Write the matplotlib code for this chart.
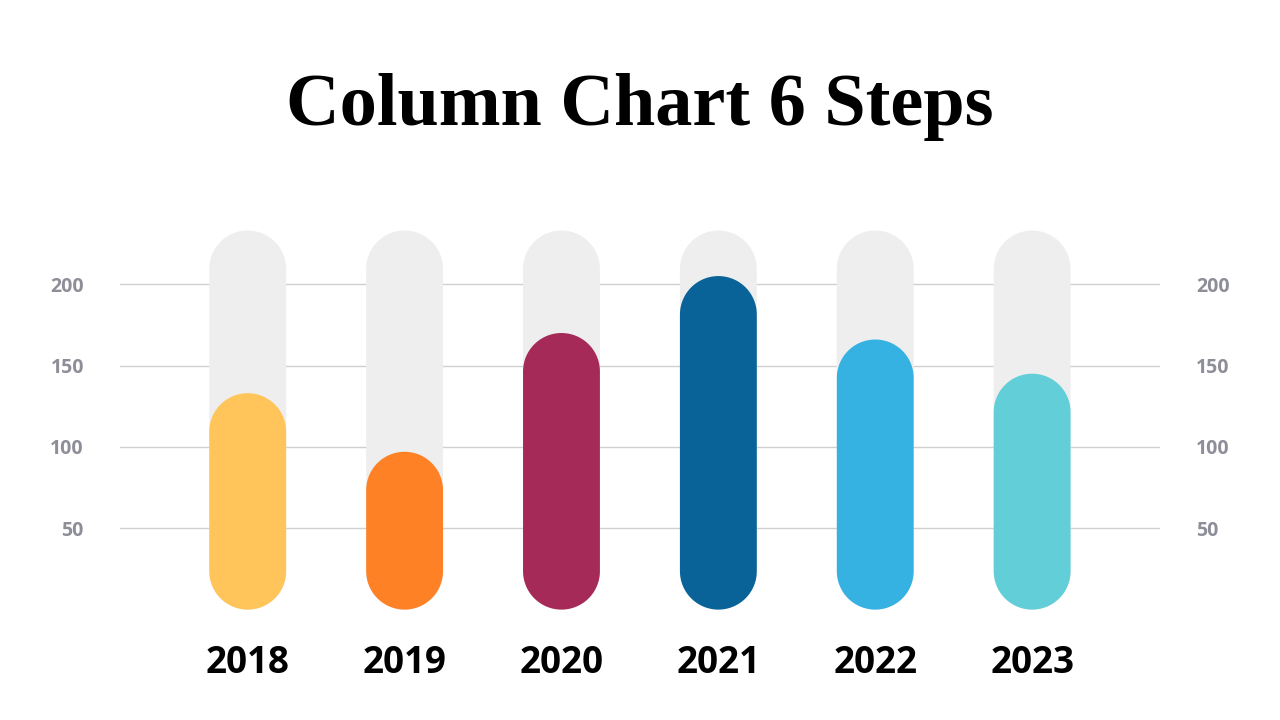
import numpy as np
import matplotlib
matplotlib.use("Agg")
import matplotlib.pyplot as plt
from matplotlib.patches import Polygon

years = ["2018", "2019", "2020", "2021", "2022", "2023"]
values = [133, 97, 170, 205, 166, 145]
track_max = 233
colors = ["#FFC45A", "#FF8126", "#A52A58", "#0A6398", "#35B1E2", "#62CED8"]
yticks = [50, 100, 150, 200]

W, H = 1280, 720
fig = plt.figure(figsize=(12.8, 7.2), dpi=100)
fig.patch.set_facecolor("white")

# axes placed in pixels: x 120..1160, zero line at y=609.6 px from top
ax = fig.add_axes([120 / W, (H - 609.6) / H, 1040 / W, 406.75 / H])
ax.set_xlim(-0.814, 5.815)
ax.set_ylim(0, 250)
for s in ax.spines.values():
    s.set_visible(False)

bar_w = 0.49


def pill(ax, x, top, w, color, z):
    # rounded column from 0 up to top, caps as half circles in pixel space
    p0 = ax.transData.transform((0, 0))
    p1 = ax.transData.transform((1, 1))
    sx, sy = p1[0] - p0[0], p1[1] - p0[1]
    ry = (w / 2) * sx / sy
    t = np.linspace(0, np.pi, 60)
    top_cap = np.column_stack([x + (w / 2) * np.cos(t), top - ry + ry * np.sin(t)])
    bot_cap = np.column_stack([x - (w / 2) * np.cos(t), ry - ry * np.sin(t)])
    pts = np.vstack([top_cap, bot_cap])
    ax.add_patch(Polygon(pts, closed=True, facecolor=color, edgecolor="none", zorder=z))


xs = np.arange(len(years))
for i, x in enumerate(xs):
    pill(ax, x, track_max, bar_w, "#EEEEEE", 2)
    pill(ax, x, values[i], bar_w, colors[i], 3)

ax.set_yticks(yticks)
ax.set_yticklabels([str(v) for v in yticks])
ax.yaxis.grid(True, color="#D0D0D0", linewidth=1)
ax.set_axisbelow(True)
ax.tick_params(axis="y", length=0, labelleft=True, labelright=True, pad=26,
               labelsize=14, labelcolor="#8E8E99")
for lab in ax.get_yticklabels():
    lab.set_fontfamily("Open Sans")
    lab.set_fontweight("bold")

ax.set_xticks(xs)
ax.set_xticklabels(years, fontfamily="Open Sans", fontweight="bold", fontsize=26.5, color="black")
ax.tick_params(axis="x", length=0, pad=25)

fig.text(0.5, 1 - 125 / H, "Column Chart 6 Steps", ha="center", va="baseline",
         fontsize=53.5, fontweight="bold", fontfamily="Liberation Serif", color="black")

fig.savefig("out.png", dpi=100, facecolor="white")
